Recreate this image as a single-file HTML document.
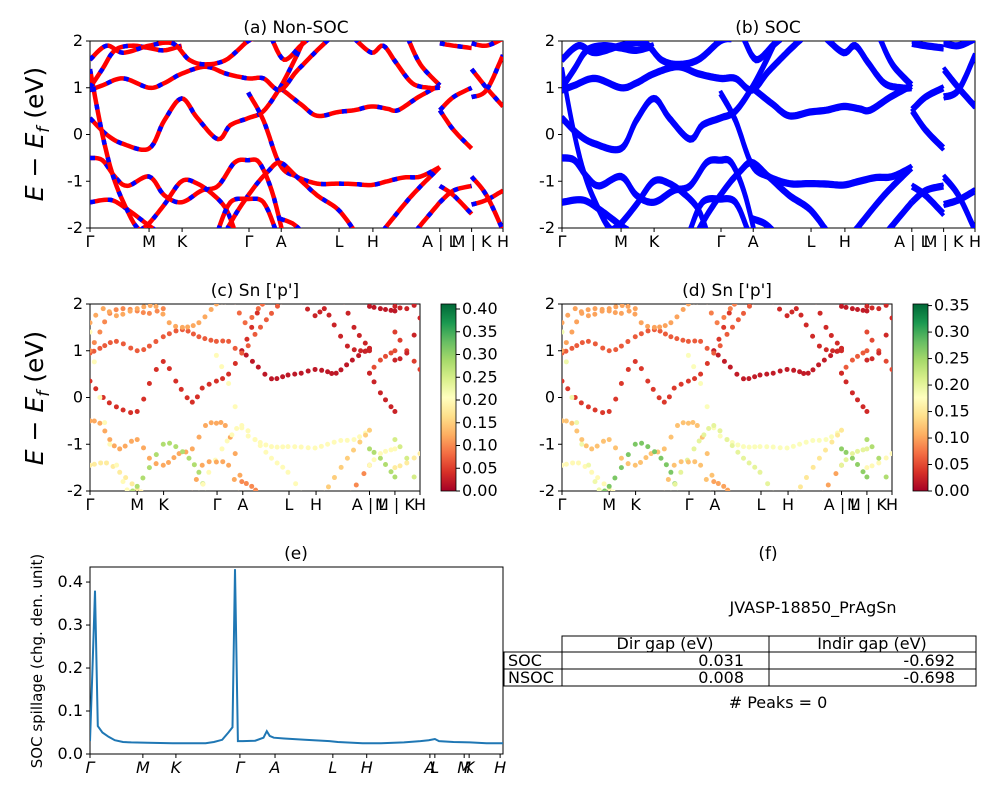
<!DOCTYPE html>
<html><head><meta charset="utf-8"><style>
body{margin:0;background:#fff;}
svg{display:block;font-family:"DejaVu Sans","Liberation Sans",sans-serif;}
</style></head><body>
<svg id="fig" width="1000" height="800" viewBox="0 0 1000 800" xmlns="http://www.w3.org/2000/svg">
<defs>
<clipPath id="clipA"><rect x="90" y="41" width="413" height="187"/></clipPath>
<clipPath id="clipB"><rect x="562" y="41" width="413" height="187"/></clipPath>
<clipPath id="clipC"><rect x="90" y="304" width="330" height="187"/></clipPath>
<clipPath id="clipD"><rect x="562" y="304" width="330" height="187"/></clipPath>
<clipPath id="clipE"><rect x="90" y="567" width="413" height="187"/></clipPath>
<linearGradient id="rdylgn" x1="0" y1="1" x2="0" y2="0">
<stop offset="0" stop-color="#a50026"/><stop offset="0.1" stop-color="#d73027"/><stop offset="0.2" stop-color="#f46d43"/><stop offset="0.3" stop-color="#fdae61"/><stop offset="0.4" stop-color="#fee08b"/><stop offset="0.5" stop-color="#ffffbf"/><stop offset="0.6" stop-color="#d9ef8b"/><stop offset="0.7" stop-color="#a6d96a"/><stop offset="0.8" stop-color="#66bd63"/><stop offset="0.9" stop-color="#1a9850"/><stop offset="1" stop-color="#006837"/>
</linearGradient>
</defs>
<text x="296" y="33" font-size="17" text-anchor="middle">(a) Non-SOC</text>
<text x="768" y="33" font-size="17" text-anchor="middle">(b) SOC</text>
<text x="255" y="296" font-size="17" text-anchor="middle">(c)  Sn ['p']</text>
<text x="727" y="296" font-size="17" text-anchor="middle">(d) Sn ['p']</text>
<text x="296" y="559" font-size="17" text-anchor="middle">(e)</text>
<text x="768" y="559" font-size="17" text-anchor="middle">(f)</text>
<text transform="translate(43,134) rotate(-90)" font-size="25" text-anchor="middle"><tspan font-style="italic">E</tspan> − <tspan font-style="italic">E</tspan><tspan font-style="italic" font-size="17" dy="6">f</tspan><tspan dy="-6"> (eV)</tspan></text>
<text transform="translate(43,398) rotate(-90)" font-size="25" text-anchor="middle"><tspan font-style="italic">E</tspan> − <tspan font-style="italic">E</tspan><tspan font-style="italic" font-size="17" dy="6">f</tspan><tspan dy="-6"> (eV)</tspan></text>
<text transform="translate(42,661) rotate(-90)" font-size="15" text-anchor="middle">SOC spillage (chg. den. unit)</text>
<g font-size="16">
<text x="813" y="613" text-anchor="middle">JVASP-18850_PrAgSn</text>
<rect x="562" y="636" width="414" height="16" fill="none" stroke="#000"/>
<rect x="504" y="652" width="472" height="34" fill="none" stroke="#000"/>
<line x1="504" y1="669" x2="976" y2="669" stroke="#000"/>
<line x1="562" y1="652" x2="562" y2="686" stroke="#000"/>
<line x1="769" y1="636" x2="769" y2="686" stroke="#000"/>
<text x="665" y="649" text-anchor="middle">Dir gap (eV)</text>
<text x="872" y="649" text-anchor="middle">Indir gap (eV)</text>
<text x="508" y="666">SOC</text><text x="508" y="683">NSOC</text>
<text x="744" y="666" text-anchor="end">0.031</text><text x="744" y="683" text-anchor="end">0.008</text>
<text x="955" y="666" text-anchor="end">-0.692</text><text x="955" y="683" text-anchor="end">-0.698</text>
<text x="778" y="708" text-anchor="middle"># Peaks = 0</text>
</g>
</svg>
<script>
// band data: k in % of path length, E in eV
const bandK = [
[0,4,8,14.3,18,22.2,26,31,34,38.3,42,46,49,52],
[38.3,42,46,50,55,60,64,68.2,72,76,80,84.7],
[46,51,55,60,64,68.2,72,74.6,79.5,84.7],
[0,3,8,14.3,18,22.2,28,33,38.3,42,46,50,55,58],
[0,3,6,9,14.3,18,22.2,27,31,35,38.3,41,44,46.5],
[0,5,9,14.3,16],
[12,14.3,18,22.2,26,30,33,35],
[0,3,6,10,12],
[33,36,40,43,46,50,55,60,64],
[31,34,38.3,42,45],
[46,49,51],
[71,78,84.7],
[79,84.7],
[64,68.2,71,74,78,82,84.7],
[77,80,84.7],
[0,3,6,10,14.3,18,22.2],
[0,4,8,14.3,20,24,28,33,38.3,41],
[44,47,51,53],
[84.7,88,92.4],
[84.7,88,92.4],
[84.7,88,92.4],
[84.7,88,92.4],
[84.7,88,92.4],
[92.4,96,100],
[92.4,96,100],
[92.4,96,100],
[92.4,96,100],
[92.4,96,100]
];
const bandE = [
[0.35,0,-0.2,-0.3,0.3,0.77,0.35,-0.1,0.2,0.35,0.5,1.0,1.5,2.05],
[0.9,0.3,-0.65,-0.9,-1.05,-1.05,-1.06,-1.08,-1.0,-0.92,-0.9,-0.7],
[1.0,0.65,0.4,0.48,0.52,0.6,0.55,0.52,0.8,1.05],
[0.95,1.05,1.2,1.0,1.1,1.3,1.45,1.3,1.2,1.2,0.95,1.35,1.8,2.05],
[-0.5,-0.55,-0.9,-1.1,-0.9,-1.3,-1.45,-1.2,-1.1,-0.6,-0.55,-0.6,-1.2,-2.05],
[-1.45,-1.4,-1.6,-1.95,-2.05],
[-2.05,-1.9,-1.5,-1.0,-1.05,-1.3,-1.6,-2.05],
[1.4,0,-1.0,-1.8,-2.05],
[-2.05,-1.6,-1.1,-0.8,-0.6,-0.9,-1.3,-1.6,-2.05],
[-2.05,-1.45,-1.38,-1.45,-2.05],
[-1.8,-1.9,-2.05],
[-2.05,-1.3,-0.7],
[-2.05,-1.45],
[2.05,1.75,1.9,1.55,1.1,1.0,1.0],
[2.05,1.5,1.05],
[1.0,1.4,1.8,1.9,1.85,1.8,1.9],
[1.6,1.9,1.75,1.9,1.95,1.6,1.5,1.6,2.0,2.05],
[2.05,1.6,1.9,2.05],
[0.52,0.8,1.0],
[0.52,0.1,-0.3],
[-1.1,-1.3,-1.7],
[-1.45,-1.2,-1.1],
[1.95,1.9,1.85],
[1.4,1.0,0.6],
[0.8,0.95,1.7],
[-1.5,-1.4,-1.2],
[-0.9,-1.3,-2.05],
[1.95,1.9,2.05]
];
const weightC = [0.04,0.2,0.02,0.07,0.12,0.18,0.28,0.2,0.2,0.12,0.1,0.15,0.1,0.03,0.03,0.1,0.12,0.08,0.06,0.03,0.28,0.2,0.02,0.05,0.03,0.18,0.25,0.03];
const weightD = [0.04,0.18,0.02,0.06,0.12,0.17,0.27,0.19,0.2,0.12,0.1,0.15,0.1,0.03,0.03,0.1,0.1,0.08,0.06,0.03,0.26,0.2,0.02,0.05,0.03,0.17,0.24,0.03];
const tickLabelsBand = ["Γ","M","K","Γ","A","L","H","A | L","M | K","H"];
const tickPosBand = [0,14.3,22.3,38.5,46.3,60.3,68.5,84.7,92.4,100];
const yTicks = [-2,-1,0,1,2];
const spillK = [0,0.6,1.2,1.9,3,4.5,6,8,10,14,20,25,28,30,32,33.5,34.5,35.1,35.8,37,40,42,42.8,43.5,44.5,47,52,58,60,66,70,76,80,82,83.5,84.5,88,92,96,100];
const spillV = [0.03,0.2,0.38,0.065,0.05,0.04,0.032,0.028,0.027,0.026,0.025,0.025,0.025,0.028,0.033,0.05,0.062,0.43,0.03,0.03,0.031,0.038,0.053,0.042,0.038,0.036,0.033,0.03,0.028,0.025,0.025,0.027,0.03,0.032,0.035,0.03,0.028,0.027,0.025,0.025];
const spillTickLabels = ["Γ","M","K","Γ","A","L","H","A","L","M","K","H"];
const spillTickPos = [0,12.8,20.8,36.3,44.8,58.8,67,82.3,83.5,90.6,91.8,99.3];
const spillYTicks = [0.0,0.1,0.2,0.3,0.4];
const cbarTicksC = [0,0.05,0.1,0.15,0.2,0.25,0.3,0.35,0.4];
const cbarTicksD = [0,0.05,0.1,0.15,0.2,0.25,0.3,0.35];

const NS="http://www.w3.org/2000/svg";
const svg=document.getElementById('fig');
function mk(tag,attrs,parent){const e=document.createElementNS(NS,tag);for(const k in attrs)e.setAttribute(k,attrs[k]);(parent||svg).appendChild(e);return e;}

function sampleBand(ks,es,step){
  const out=[];
  for(let i=0;i<ks.length-1;i++){
    const p0=i>0?[ks[i-1],es[i-1]]:[ks[i],es[i]], p1=[ks[i],es[i]], p2=[ks[i+1],es[i+1]], p3=i+2<ks.length?[ks[i+2],es[i+2]]:p2;
    const n=Math.max(2,Math.ceil((p2[0]-p1[0])/step));
    for(let j=0;j<n;j++){const t=j/n,t2=t*t,t3=t2*t;
      const f=(a,b,c,d)=>0.5*(2*b+(-a+c)*t+(2*a-5*b+4*c-d)*t2+(-a+3*b-3*c+d)*t3);
      out.push([f(p0[0],p1[0],p2[0],p3[0]),f(p0[1],p1[1],p2[1],p3[1])]);}
  }
  out.push([ks[ks.length-1],es[es.length-1]]);
  return out;
}
const stops=[[0,'#a50026'],[.1,'#d73027'],[.2,'#f46d43'],[.3,'#fdae61'],[.4,'#fee08b'],[.5,'#ffffbf'],[.6,'#d9ef8b'],[.7,'#a6d96a'],[.8,'#66bd63'],[.9,'#1a9850'],[1,'#006837']];
function cmap(v){v=Math.max(0,Math.min(1,v));for(let i=0;i<stops.length-1;i++){if(v<=stops[i+1][0]){const t=(v-stops[i][0])/0.1;const a=stops[i][1],b=stops[i+1][1];const c=[1,3,5].map(o=>Math.round(parseInt(a.substr(o,2),16)*(1-t)+parseInt(b.substr(o,2),16)*t));return `rgb(${c.join(',')})`;}}return stops[10][1];}

function axes(name,x0,w,y0,h,tickPos,tickLabels,yt,yfmt,ymin,ymax,italic){
  const xs=k=>x0+k/100*w, ys=v=>y0+h-(v-ymin)/(ymax-ymin)*h;
  const g=mk('g',{});
  
  
  mk('rect',{x:x0,y:y0,width:w,height:h,fill:'none',stroke:'#000','stroke-width':1},g);
  tickPos.forEach((p,i)=>{
    mk('line',{x1:xs(p),x2:xs(p),y1:y0+h,y2:y0+h+4,stroke:'#000'},g);
    const t=mk('text',{x:xs(p),y:y0+h+19,'font-size':16,'text-anchor':'middle','font-style':italic?'italic':'normal'},g);
    
    
    t.textContent=tickLabels[i];
  });
  yt.forEach(v=>{
    mk('line',{x1:x0-4,x2:x0,y1:ys(v),y2:ys(v),stroke:'#000'},g);
    const t=mk('text',{x:x0-7,y:ys(v)+5,'font-size':16,'text-anchor':'end'},g);
    
    
    t.textContent=yfmt(v);
  });
  return {xs,ys};
}
function bandPanel(name,x0,w,y0,h,clip,mode,weights,wmax){
  const ax=axes(name,x0,w,y0,h,tickPosBand,tickLabelsBand,yTicks,v=>String(v),-2,2,false);
  const g=mk('g',{'clip-path':`url(#${clip})`});
  
  
  bandK.forEach((ks,bi)=>{
    const es=bandE[bi];
    if(mode==='dots'){
      const pts=sampleBand(ks,es,330/w*2.2);
      const col=cmap(weights[bi]/wmax);
      pts.forEach(p=>{const c=mk('circle',{cx:ax.xs(p[0]),cy:ax.ys(p[1]),r:2.5,fill:col},g);
        
        });
    } else {
      const pts=sampleBand(ks,es,0.5);
      const offs=mode==='soc'?[-0.035,0.035]:[0];
      offs.forEach(o=>{
        const d=pts.map((p,i)=>(i?'L':'M')+ax.xs(p[0]).toFixed(1)+','+ax.ys(p[1]+o).toFixed(1)).join('');
        if(mode==='soc'){const l=mk('path',{d,fill:'none',stroke:'#0000ff','stroke-width':4},g);
          
          }
        else{const l=mk('path',{d,fill:'none',stroke:'#ff0000','stroke-width':4.5},g);
          
          
          const l2=mk('path',{d,fill:'none',stroke:'#0000ff','stroke-width':4.5,'stroke-dasharray':'5 13'},g);
          
          }
      });
    }
  });
}
function colorbar(name,x,y0,h,ticks,vmax){
  const r=mk('rect',{x:x,y:y0,width:15,height:h,fill:'url(#rdylgn)',stroke:'#000','stroke-width':0.8});
  
  
  ticks.forEach(v=>{const yy=y0+h-v/vmax*h;
    mk('line',{x1:x+15,x2:x+19,y1:yy,y2:yy,stroke:'#000'});
    const t=mk('text',{x:x+21,y:yy+5,'font-size':16});
    
    
    t.textContent=v.toFixed(2);});
}
bandPanel('panel-a',90,413,41,187,'clipA','nonsoc');
bandPanel('panel-b',562,413,41,187,'clipB','soc');
bandPanel('panel-c',90,330,304,187,'clipC','dots',weightC,0.411);
bandPanel('panel-d',562,330,304,187,'clipD','dots',weightD,0.353);
colorbar('colorbar-c',441,304,187,cbarTicksC,0.411);
colorbar('colorbar-d',913,304,187,cbarTicksD,0.353);
const ae=axes('panel-e',90,413,567,187,spillTickPos,spillTickLabels,spillYTicks,v=>v.toFixed(1),0,0.435,true);
const d=spillK.map((k,i)=>(i?'L':'M')+ae.xs(k).toFixed(1)+','+ae.ys(spillV[i]).toFixed(1)).join('');
const sl=mk('path',{d,fill:'none',stroke:'#1f77b4','stroke-width':2,'clip-path':'url(#clipE)'});


</script>
</body></html>
